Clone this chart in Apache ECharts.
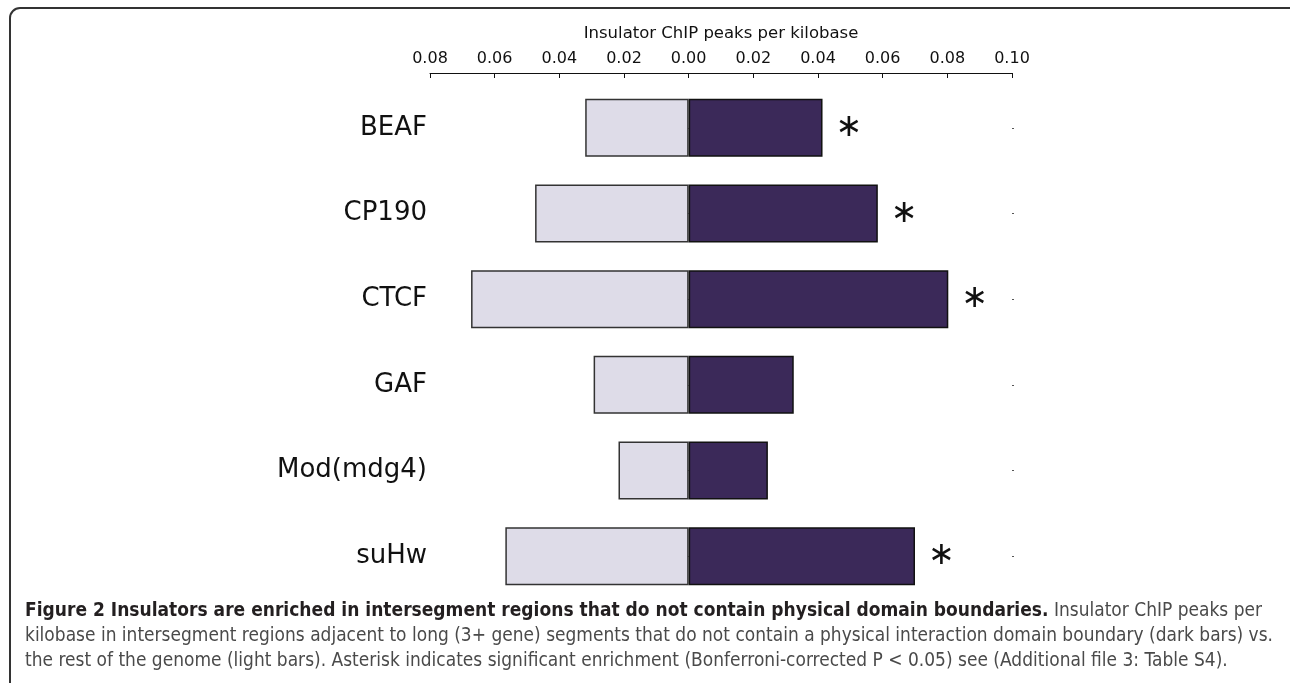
<!DOCTYPE html>
<html>
<head>
<meta charset="utf-8">
<script src="https://cdn.jsdelivr.net/npm/echarts@6/dist/echarts.min.js"></script>
<style>
  html, body { margin: 0; padding: 0; background: #fff; }
  #main { width: 1290px; height: 683px; }
</style>
</head>
<body>
<div id="main"></div>
<script>
// insulator names, top to bottom
var insulators = ['BEAF', 'CP190', 'CTCF', 'GAF', 'Mod(mdg4)', 'suHw'];
// rest of genome (light bars), drawn to the left
var restGenome = [0.0320, 0.0475, 0.0673, 0.0294, 0.0217, 0.0567];
// intersegment regions without boundary (dark bars), drawn to the right
var intersegment = [0.0414, 0.0585, 0.0803, 0.0325, 0.0245, 0.0700];
// significant enrichment marker
var significant = [true, true, true, false, false, true];

var captionBold = 'Figure 2 Insulators are enriched in intersegment regions that do not contain physical domain boundaries.';
var captionLines = [
  ' Insulator ChIP peaks per',
  'kilobase in intersegment regions adjacent to long (3+ gene) segments that do not contain a physical interaction domain boundary (dark bars) vs.',
  'the rest of the genome (light bars). Asterisk indicates significant enrichment (Bonferroni-corrected P < 0.05) see (Additional file 3: Table S4).'
];

// caption font is a narrow one, squeeze DejaVu horizontally to get it
var capFont = '"DejaVu Sans", sans-serif';
var capSize = 19;
var cv = document.createElement('canvas').getContext('2d');
function textW(t, bold) {
  cv.font = (bold ? 'bold ' : '') + capSize + 'px ' + capFont;
  return cv.measureText(t).width;
}
var capLeft = 25;
var normScale = 1248 / textW(captionLines[1], false);
var tailW = textW(captionLines[0], false) * normScale;
var boldScale = (1262 - capLeft - tailW) / textW(captionBold, true);
var boldEnd = capLeft + textW(captionBold, true) * boldScale;

function capText(x, y, t, bold, sx) {
  return {
    type: 'text',
    x: x,
    y: y,
    scaleX: sx,
    style: {
      text: t,
      fontFamily: capFont,
      fontSize: capSize,
      fontWeight: bold ? 'bold' : 'normal',
      fill: bold ? '#231f20' : '#4a4a4a',
      verticalAlign: 'middle'
    }
  };
}

var myChart = echarts.init(document.getElementById('main'), null, { renderer: 'canvas' });

var option = {
  animation: false,
  backgroundColor: '#fff',
  grid: { left: 430, right: 278, top: 85, bottom: 84 },
  xAxis: {
    type: 'value',
    position: 'top',
    offset: 12,
    min: -0.08,
    max: 0.10,
    interval: 0.02,
    name: 'Insulator ChIP peaks per kilobase',
    nameLocation: 'middle',
    nameGap: 31,
    nameTextStyle: { fontFamily: 'DejaVu Sans', fontSize: 16.5, color: '#111' },
    axisLine: { show: true, lineStyle: { color: '#111', width: 1 } },
    axisTick: { show: true, inside: true, length: 5, lineStyle: { color: '#111' } },
    axisLabel: {
      margin: 6,
      fontFamily: 'DejaVu Sans',
      fontSize: 16,
      color: '#111',
      formatter: function (v) { return Math.abs(v).toFixed(2); }
    },
    splitLine: { show: false }
  },
  yAxis: [{
    type: 'category',
    inverse: true,
    data: insulators,
    axisLine: { show: false },
    axisTick: { show: true, alignWithLabel: true, length: 2, lineStyle: { color: '#555' } },
    axisLabel: { margin: 3, fontFamily: 'DejaVu Sans', fontSize: 26, color: '#111' }
  }, {
    type: 'category',
    inverse: true,
    position: 'right',
    data: insulators,
    axisLine: { show: false },
    axisTick: { show: true, alignWithLabel: true, length: 2, lineStyle: { color: '#555' } },
    axisLabel: { show: false }
  }],
  series: [{
    name: 'rest of genome',
    type: 'bar',
    barWidth: 58,
    barGap: '-100%',
    data: restGenome.map(function (v) { return -v; }),
    itemStyle: { color: '#dedce8', borderColor: '#333', borderWidth: 1.5 }
  }, {
    name: 'intersegment',
    type: 'bar',
    barWidth: 58,
    barGap: '-100%',
    data: intersegment,
    itemStyle: { color: '#3b2959', borderColor: '#111', borderWidth: 1.5 },
    label: {
      show: true,
      position: 'right',
      distance: 13,
      fontFamily: 'DejaVu Sans',
      fontSize: 32,
      color: '#111',
      formatter: function (p) { return significant[p.dataIndex] ? '\u2217' : ''; }
    }
  }],
  graphic: [{
    type: 'line',
    shape: { x1: 10, y1: 683, x2: 10, y2: 18 },
    style: { stroke: '#333', lineWidth: 2 }
  }, {
    type: 'arc',
    shape: { cx: 20, cy: 18, r: 10, startAngle: Math.PI, endAngle: Math.PI * 1.5 },
    style: { fill: null, stroke: '#333', lineWidth: 2 }
  }, {
    type: 'line',
    shape: { x1: 20, y1: 8, x2: 1290, y2: 8 },
    style: { stroke: '#333', lineWidth: 2 }
  },
    capText(capLeft, 611, captionBold, true, boldScale),
    capText(boldEnd, 611, captionLines[0], false, normScale),
    capText(capLeft, 636, captionLines[1], false, normScale),
    capText(capLeft, 661, captionLines[2], false, normScale)
  ]
};

myChart.setOption(option);
</script>
</body>
</html>
